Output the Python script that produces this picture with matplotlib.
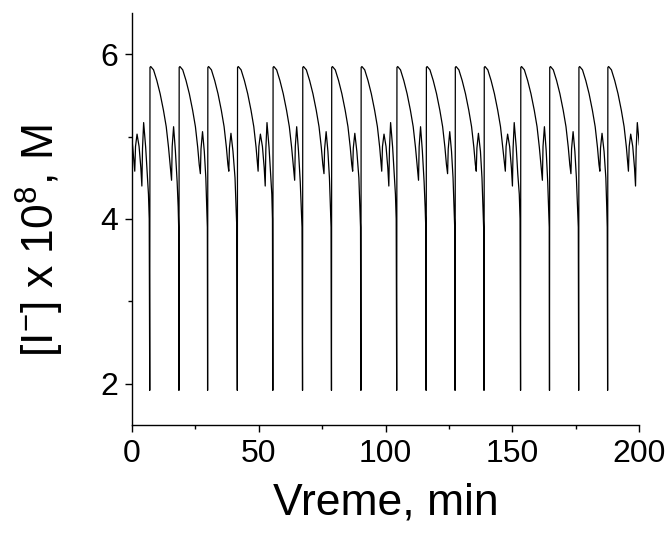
import matplotlib
matplotlib.use("Agg")
import matplotlib.pyplot as plt
from matplotlib.ticker import MultipleLocator

plt.rcParams["font.family"] = ["Liberation Sans", "DejaVu Sans"]
plt.rcParams["mathtext.fontset"] = "custom"
plt.rcParams["mathtext.rm"] = "Liberation Sans"
plt.rcParams["mathtext.it"] = "Liberation Sans:italic"
plt.rcParams["mathtext.bf"] = "Liberation Sans:bold"

# time (min) and [I-] x 1e8 (M), one oscillation per line
time_min = [
    0.0, 0.4, 0.9, 1.2, 1.5, 2.1, 2.9, 3.6, 4.0, 4.25, 4.7, 5.5, 6.1, 6.6, 6.9,
    7.1, 7.2, 7.5, 8.6, 9.9, 11.2, 12.5, 13.6, 14.5, 15.2, 15.7, 15.95, 16.5, 17.2, 17.9, 18.3, 18.5,
    18.6, 18.7, 19.0, 20.1, 21.4, 22.7, 24.0, 25.1, 26.0, 26.6, 27.05, 27.3, 27.9, 28.6, 29.2, 29.55, 29.8,
    29.9, 30.0, 30.3, 31.4, 32.7, 34.0, 35.3, 36.4, 37.3, 37.9, 38.25, 38.5, 39.1, 39.9, 40.7, 41.1, 41.4,
    41.6, 41.7, 42.0, 43.1, 44.4, 45.7, 47.0, 48.1, 49.0, 49.5, 49.8, 50.1, 50.7, 51.5, 52.2, 52.6, 52.85, 53.3, 54.1, 54.7, 55.2, 55.45,
    55.6, 55.7, 56.0, 57.1, 58.4, 59.7, 61.0, 62.1, 63.0, 63.7, 64.2, 64.45, 65.0, 65.7, 66.4, 66.8, 67.1,
    67.3, 67.4, 67.7, 68.8, 70.1, 71.4, 72.7, 73.8, 74.7, 75.3, 75.75, 76.0, 76.6, 77.3, 77.9, 78.3, 78.55,
    78.7, 78.8, 79.1, 80.2, 81.5, 82.8, 84.1, 85.2, 86.1, 86.7, 87.05, 87.3, 87.9, 88.7, 89.5, 89.9, 90.15,
    90.3, 90.4, 90.7, 91.8, 93.1, 94.4, 95.7, 96.8, 97.7, 98.2, 98.5, 98.8, 99.4, 100.2, 100.9, 101.3, 101.55, 102.0, 102.8, 103.4, 103.9, 104.2,
    104.4, 104.5, 104.8, 105.9, 107.2, 108.5, 109.8, 110.9, 111.8, 112.5, 113.0, 113.25, 113.8, 114.5, 115.2, 115.6, 115.85,
    116.0, 116.1, 116.4, 117.5, 118.8, 120.1, 121.4, 122.5, 123.4, 124.0, 124.45, 124.7, 125.3, 126.0, 126.6, 127.0, 127.25,
    127.4, 127.5, 127.8, 128.9, 130.2, 131.5, 132.8, 133.9, 134.8, 135.4, 135.75, 136.0, 136.6, 137.4, 138.0, 138.4, 138.65,
    138.8, 138.9, 139.2, 140.3, 141.6, 142.9, 144.2, 145.3, 146.2, 146.9, 147.2, 147.5, 148.1, 148.9, 149.6, 150.0, 150.25, 150.7, 151.5, 152.1, 152.7, 153.0,
    153.2, 153.3, 153.6, 154.7, 156.0, 157.3, 158.6, 159.7, 160.6, 161.3, 161.8, 162.05, 162.6, 163.3, 163.9, 164.25, 164.5,
    164.6, 164.7, 165.0, 166.1, 167.4, 168.7, 170.0, 171.1, 172.0, 172.6, 173.05, 173.3, 173.9, 174.6, 175.2, 175.65, 175.95,
    176.1, 176.2, 176.5, 177.6, 178.9, 180.2, 181.5, 182.6, 183.5, 184.1, 184.45, 184.7, 185.3, 186.1, 186.8, 187.15, 187.35,
    187.5, 187.6, 187.9, 189.0, 190.3, 191.6, 192.9, 194.0, 194.9, 195.4, 195.7, 196.0, 196.6, 197.4, 198.1, 198.5, 198.75, 199.2, 200.0,
]
iodide = [
    5.00, 4.87, 4.68, 4.58, 4.88, 5.03, 4.88, 4.62, 4.40, 4.85, 5.17, 4.87, 4.55, 4.30, 4.00,
    1.92, 5.84, 5.85, 5.81, 5.68, 5.52, 5.32, 5.12, 4.87, 4.63, 4.47, 4.88, 5.12, 4.83, 4.45, 4.15, 3.90,
    1.92, 5.84, 5.85, 5.81, 5.68, 5.52, 5.32, 5.12, 4.87, 4.66, 4.55, 4.85, 5.06, 4.82, 4.50, 4.15, 3.90,
    1.92, 5.84, 5.85, 5.81, 5.68, 5.52, 5.32, 5.12, 4.87, 4.66, 4.58, 4.86, 5.04, 4.82, 4.50, 4.15, 3.90,
    1.92, 5.84, 5.85, 5.81, 5.68, 5.52, 5.32, 5.12, 4.87, 4.68, 4.58, 4.88, 5.03, 4.88, 4.62, 4.40, 4.85, 5.17, 4.87, 4.55, 4.30, 4.00,
    1.92, 5.84, 5.85, 5.81, 5.68, 5.52, 5.32, 5.12, 4.87, 4.63, 4.47, 4.88, 5.12, 4.83, 4.45, 4.15, 3.90,
    1.92, 5.84, 5.85, 5.81, 5.68, 5.52, 5.32, 5.12, 4.87, 4.66, 4.55, 4.85, 5.06, 4.82, 4.50, 4.15, 3.90,
    1.92, 5.84, 5.85, 5.81, 5.68, 5.52, 5.32, 5.12, 4.87, 4.66, 4.58, 4.86, 5.04, 4.82, 4.50, 4.15, 3.90,
    1.92, 5.84, 5.85, 5.81, 5.68, 5.52, 5.32, 5.12, 4.87, 4.68, 4.58, 4.88, 5.03, 4.88, 4.62, 4.40, 4.85, 5.17, 4.87, 4.55, 4.30, 4.00,
    1.92, 5.84, 5.85, 5.81, 5.68, 5.52, 5.32, 5.12, 4.87, 4.63, 4.47, 4.88, 5.12, 4.83, 4.45, 4.15, 3.90,
    1.92, 5.84, 5.85, 5.81, 5.68, 5.52, 5.32, 5.12, 4.87, 4.66, 4.55, 4.85, 5.06, 4.82, 4.50, 4.15, 3.90,
    1.92, 5.84, 5.85, 5.81, 5.68, 5.52, 5.32, 5.12, 4.87, 4.66, 4.58, 4.86, 5.04, 4.82, 4.50, 4.15, 3.90,
    1.92, 5.84, 5.85, 5.81, 5.68, 5.52, 5.32, 5.12, 4.87, 4.68, 4.58, 4.88, 5.03, 4.88, 4.62, 4.40, 4.85, 5.17, 4.87, 4.55, 4.30, 4.00,
    1.92, 5.84, 5.85, 5.81, 5.68, 5.52, 5.32, 5.12, 4.87, 4.63, 4.47, 4.88, 5.12, 4.83, 4.45, 4.15, 3.90,
    1.92, 5.84, 5.85, 5.81, 5.68, 5.52, 5.32, 5.12, 4.87, 4.66, 4.55, 4.85, 5.06, 4.82, 4.50, 4.15, 3.90,
    1.92, 5.84, 5.85, 5.81, 5.68, 5.52, 5.32, 5.12, 4.87, 4.66, 4.58, 4.86, 5.04, 4.82, 4.50, 4.15, 3.90,
    1.92, 5.84, 5.85, 5.81, 5.68, 5.52, 5.32, 5.12, 4.87, 4.68, 4.58, 4.88, 5.03, 4.88, 4.62, 4.40, 4.85, 5.17, 4.90,
]

x_ticks = [0, 50, 100, 150, 200]
y_ticks = [2, 4, 6]

fig = plt.figure(figsize=(6.72, 5.37), dpi=100)
ax = fig.add_axes([0.196, 0.2086, 0.7554, 0.7672])

ax.plot(time_min, iodide, color="black", linewidth=0.9)

ax.set_xlim(0, 200)
ax.set_ylim(1.5, 6.5)
ax.set_xticks(x_ticks)
ax.set_yticks(y_ticks)
ax.xaxis.set_minor_locator(MultipleLocator(25))
ax.yaxis.set_minor_locator(MultipleLocator(1))

for side in ["top", "right"]:
    ax.spines[side].set_visible(False)
for side in ["left", "bottom"]:
    ax.spines[side].set_linewidth(1.0)

ax.tick_params(which="major", direction="out", length=5, width=1.0,
               labelsize=23, pad=5)
ax.tick_params(which="minor", direction="out", length=3, width=1.0)

fig.text(386 / 672, 1 - 515 / 537, "Vreme, min", fontsize=32,
         ha="center", va="baseline")
fig.text(40 / 672, 1 - 241 / 537, r"[I$^{-}$] x 10$^{8}$, M", fontsize=32,
         rotation=90, ha="center", va="center")

fig.savefig("out.png", dpi=100)
